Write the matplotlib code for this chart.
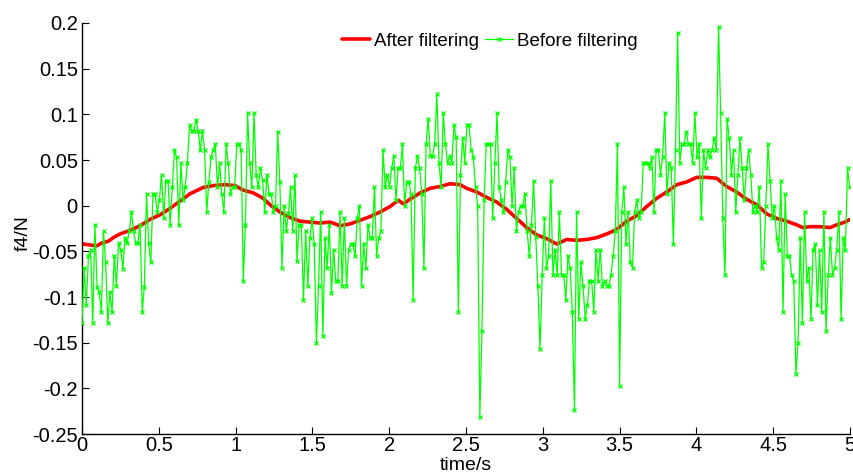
import numpy as np
import matplotlib
matplotlib.use("Agg")
import matplotlib.pyplot as plt
from matplotlib.ticker import FuncFormatter

# ---------------- data ----------------
dt_raw = 0.014  # sampling step of the raw signal (s)
f_raw = [
    -0.129, -0.068, -0.109, -0.055, -0.048, -0.129, -0.021, -0.089, -0.095, -0.116,
    -0.028, -0.062, -0.129, -0.095, -0.116, -0.055, -0.088, -0.041, -0.048, -0.069,
    -0.035, -0.041, -0.028, -0.007, -0.028, -0.041, -0.041, -0.021, -0.116, -0.089,
    0.013, -0.041, -0.062, 0.013, 0.013, -0.007, 0.006, 0.034, -0.014, 0.027,
    0.027, -0.021, 0.020, 0.061, 0.053, -0.021, 0.047, 0.006, 0.020, 0.047,
    0.088, 0.082, 0.082, 0.094, 0.082, 0.061, 0.082, 0.061, -0.007,
    0.026, 0.053, 0.061, 0.067, 0.020, 0.047, 0.013, -0.007, 0.067, 0.047,
    0.013, 0.020, 0.020, 0.067, 0.067, 0.061, -0.082, -0.021, 0.101, 0.047,
    0.020, 0.101, 0.034, 0.020, 0.041, 0.028, -0.007, 0.034, 0.013, 0.013,
    -0.007, 0.000, 0.081,
    0.026, -0.068, 0.000, -0.028, -0.008, 0.020, -0.028, 0.034, -0.061, -0.021,
    -0.021, -0.103, -0.028, -0.088, -0.035, -0.014, -0.042, -0.150, -0.088, -0.007,
    -0.143, -0.035, -0.068, -0.021, -0.096, -0.048, -0.082, -0.082, -0.007, -0.088,
    -0.014, -0.088, -0.048, -0.042, -0.042, -0.055, -0.014, 0.000, -0.088, -0.042,
    -0.068, -0.021, -0.035, -0.035, 0.020, -0.055, -0.035, -0.028, 0.061, 0.020,
    0.034, 0.020, 0.041, 0.054, 0.006, 0.041, 0.041, 0.067, 0.000, 0.026,
    0.026, 0.013, -0.103, 0.041, 0.054, 0.041, 0.013, -0.068, 0.067, 0.095,
    0.054, 0.054, 0.067, 0.122, 0.047, 0.020, 0.101, 0.067, 0.047, 0.054,
    0.047, 0.088, 0.075, -0.116, 0.034, 0.074, 0.047, 0.088,
    0.088, 0.061, 0.053, 0.020, 0.000, -0.231, -0.137, 0.006, 0.067, 0.067,
    0.067, -0.014, 0.047, 0.101, 0.020, 0.006, -0.007, 0.026, 0.061, 0.053,
    0.000, 0.041, -0.028, -0.007, 0.000, 0.000, 0.013, -0.028, -0.055, -0.021,
    0.027, -0.034, -0.088, -0.157, -0.076, -0.014, -0.068, -0.055, 0.027, -0.076,
    -0.048, -0.076, -0.007, -0.076, -0.076, -0.103, -0.055, -0.068, -0.116, -0.224,
    -0.007, -0.124, -0.062, -0.088, -0.124, -0.109, -0.082, -0.082, -0.116, -0.048,
    -0.082, -0.048, -0.088, -0.082, -0.088, -0.088, -0.076, -0.055, -0.028, 0.067,
    -0.197, -0.007, 0.020, -0.042, -0.007, -0.062, -0.068, -0.007, 0.006, -0.014,
    -0.007, 0.047, 0.047, 0.047, 0.041, 0.053, -0.007, 0.061,
    0.061, 0.034, 0.053, 0.101, 0.013, 0.047, 0.041, -0.042, 0.061, 0.189,
    0.047, 0.067, 0.067, 0.081, 0.067, 0.067, 0.047, 0.101, 0.053, 0.067,
    -0.014, 0.061, 0.041, 0.061, 0.053, 0.061, 0.074, 0.061, 0.196, 0.101,
    -0.014, -0.076, 0.095, 0.074, 0.034, 0.061, -0.007, 0.034, 0.074, 0.041,
    0.006, 0.041, 0.061, 0.034, -0.007, 0.000, -0.007, 0.020, -0.068, -0.062,
    0.000, 0.067, 0.027, -0.014, 0.000, -0.035, -0.048, 0.027, -0.116, 0.013,
    -0.055, -0.055, -0.076, -0.082, -0.184, -0.150, -0.035, -0.129, -0.007, -0.082,
    -0.068, -0.124, -0.048, -0.042, -0.109, -0.048, -0.116, -0.007, -0.137, -0.076,
    -0.035, -0.076, -0.068, -0.048, -0.007, -0.124, -0.035, -0.048, 0.041, 0.020,
]

t_filt = [
    0.008, 0.052, 0.096, 0.128, 0.171, 0.204, 0.247, 0.313, 0.378, 0.443,
    0.508, 0.573, 0.638, 0.703, 0.790, 0.855, 0.931, 0.996, 1.050, 1.115,
    1.180, 1.224, 1.289, 1.354, 1.419, 1.484, 1.549, 1.615, 1.680, 1.745,
    1.810, 1.875, 1.940, 2.005, 2.059, 2.092, 2.135, 2.201, 2.266, 2.331,
    2.396, 2.461, 2.504, 2.570, 2.635, 2.700, 2.765, 2.830, 2.895, 2.960,
    3.025, 3.090, 3.156, 3.221, 3.286, 3.351, 3.416, 3.481, 3.546, 3.611,
    3.676, 3.741, 3.807, 3.872, 3.937, 4.002, 4.067, 4.132, 4.197, 4.262,
    4.327, 4.393, 4.458, 4.523, 4.588, 4.653, 4.692, 4.740, 4.805, 4.870,
    4.913, 4.967, 5.000,
]
f_filt = [
    -0.042, -0.043, -0.044, -0.041, -0.039, -0.035, -0.031, -0.027, -0.022, -0.015,
    -0.010, -0.003, 0.005, 0.013, 0.020, 0.022, 0.023, 0.022, 0.017, 0.014,
    0.008, 0.001, -0.007, -0.013, -0.017, -0.018, -0.019, -0.018, -0.022, -0.020,
    -0.016, -0.012, -0.007, -0.001, 0.006, 0.002, 0.007, 0.014, 0.019, 0.021,
    0.024, 0.023, 0.019, 0.015, 0.009, 0.004, -0.004, -0.014, -0.024, -0.032,
    -0.036, -0.042, -0.037, -0.038, -0.037, -0.035, -0.031, -0.026, -0.017, -0.011,
    -0.001, 0.008, 0.015, 0.023, 0.026, 0.031, 0.031, 0.030, 0.021, 0.015,
    0.007, 0.001, -0.009, -0.014, -0.017, -0.021, -0.024, -0.023, -0.023, -0.024,
    -0.021, -0.018, -0.015,
]

x_ticks = [0, 0.5, 1, 1.5, 2, 2.5, 3, 3.5, 4, 4.5, 5]
y_ticks = [-0.25, -0.2, -0.15, -0.1, -0.05, 0, 0.05, 0.1, 0.15, 0.2]

# ---------------- figure ----------------
plt.rcParams['font.family'] = ['Liberation Sans', 'DejaVu Sans']
fig = plt.figure(figsize=(8.54, 4.73), dpi=100)
ax = fig.add_axes([82 / 854, 39 / 473, 768 / 854, 411 / 473])

t_raw = np.arange(len(f_raw)) * dt_raw
ax.plot(t_filt, f_filt, color='#ff0000', lw=2.6, label='After filtering',
        solid_capstyle='round', zorder=2)
ax.plot(t_raw, f_raw, color='#00ff00', lw=0.9, marker='x', ms=2.8, mew=0.9,
        label='Before filtering', zorder=3)

ax.set_xlim(0, 5)
ax.set_ylim(-0.25, 0.2)
ax.set_xticks(x_ticks)
ax.set_yticks(y_ticks)
fmt = FuncFormatter(lambda v, p: ('%g' % round(v, 4)))
ax.xaxis.set_major_formatter(fmt)
ax.yaxis.set_major_formatter(fmt)

for s in ['top', 'right']:
    ax.spines[s].set_visible(False)
for s in ['left', 'bottom']:
    ax.spines[s].set_linewidth(1.0)
ax.tick_params(direction='in', length=5, width=0.8, labelsize=14.5)
ax.tick_params(axis='x', pad=1.5)
ax.tick_params(axis='y', pad=3)

ax.set_xlabel('time/s', fontsize=14)
ax.set_ylabel('f4/N', fontsize=14)
ax.xaxis.set_label_coords(0.5, -0.056)
ax.yaxis.set_label_coords(-0.066, 0.49)

ax.legend(loc='center', bbox_to_anchor=(0.531, 0.955), ncol=2, frameon=False,
          fontsize=13.5, handlelength=1.5, handletextpad=0.2, columnspacing=0.3,
          borderaxespad=0, borderpad=0)

fig.savefig('out.png', dpi=100)
